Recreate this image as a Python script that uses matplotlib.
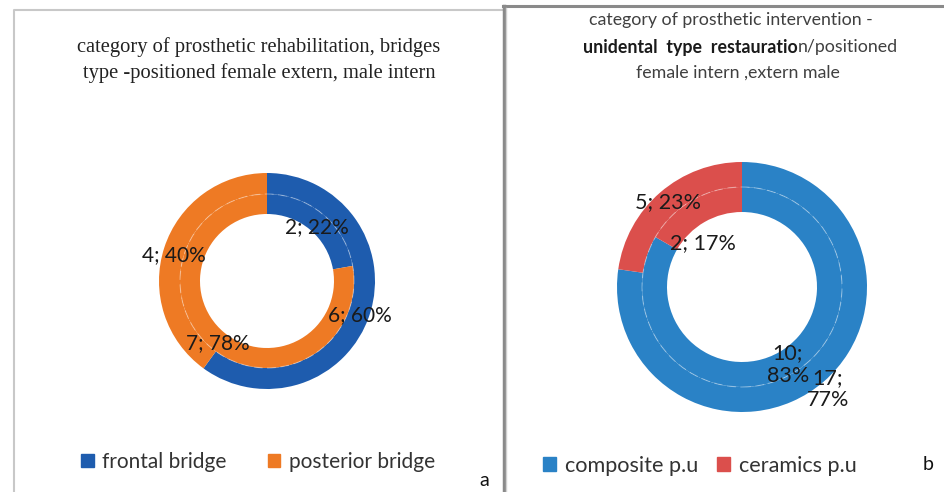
import math
import matplotlib
matplotlib.use('Agg')
import matplotlib.pyplot as plt
from matplotlib.patches import Circle, Patch

# data
bridge_labels = ['frontal bridge', 'posterior bridge']
bridge_female = [6, 4]   # outer ring (female, extern)
bridge_male = [2, 7]     # inner ring (male, intern)

unident_labels = ['composite p.u', 'ceramics p.u']
unident_male = [17, 5]   # outer ring (male, extern)
unident_female = [10, 2]  # inner ring (female, intern)

W, H = 945, 492
fig = plt.figure(figsize=(W / 100, H / 100), dpi=100)
ax = fig.add_axes([0, 0, 1, 1])

LABEL_FONT = ['Lato', 'DejaVu Sans']


def donut(ax, cx, cy, r_out, r_mid, r_in, outer, inner, colors,
          offsets, wrap, fsize):
    # cx, cy in image pixels (y down); convert for the y-up axes
    c = (cx, H - cy)
    rings = [(outer, r_out, r_out - r_mid), (inner, r_mid, r_mid - r_in)]
    k = 0
    for vals, r, w in rings:
        ax.pie(vals, radius=r, center=c, startangle=90, counterclock=False,
               colors=colors, wedgeprops=dict(width=w, edgecolor='none'))
        tot = sum(vals)
        cum = 0
        for v in vals:
            mid = (cum + v / 2) / tot * 360
            cum += v
            rr = r - w / 2
            x = c[0] + rr * math.sin(math.radians(mid)) + offsets[k][0]
            y = c[1] + rr * math.cos(math.radians(mid)) - offsets[k][1]
            sep = '\n' if wrap[k] else ' '
            ax.text(x, y, f'{v};{sep}{round(100 * v / tot)}%', ha='center',
                    va='center', fontsize=fsize, color='#1a1a1a',
                    family=LABEL_FONT, linespacing=1.15)
            k += 1
    # faint dashed border between the two rings
    ax.add_patch(Circle(c, r_mid, fill=False, ec='white', lw=0.8,
                        ls=(0, (8, 4)), alpha=0.35))


# left chart (a)
left_colors = ['#1E5CAE', '#EE7A24']
donut(ax, 267, 281, 108, 87, 67, bridge_female, bridge_male, left_colors,
      offsets=[(0, 4), (0, 4), (0, 5), (0, 3)],
      wrap=[False, False, False, False], fsize=15)

# right chart (b)
right_colors = ['#2A82C6', '#DB4F4C']
donut(ax, 742, 287, 125, 100, 75, unident_male, unident_female, right_colors,
      offsets=[(12, 17), (0, 0), (2, 2), (5, 32)],
      wrap=[True, False, True, False], fsize=15.5)

ax.set_xlim(0, W)
ax.set_ylim(0, H)
ax.set_aspect('auto')
ax.axis('off')

# panel frames
ax.plot([14, 14, 503], [0, H - 10, H - 10], color='#c8c8c8', lw=1.5,
        clip_on=False)
ax.plot([503, 945], [H - 6, H - 6], color='#8a8a8a', lw=2.2, clip_on=False)
ax.plot([503.5, 503.5], [0, H - 6], color='#8a8a8a', lw=2.5, clip_on=False)
ax.plot([506, 506], [0, H - 8], color='#d0d0d0', lw=1, clip_on=False)

# titles
ax.text(259, H - 47, 'category of prosthetic rehabilitation, bridges',
        ha='center', va='center', fontsize=14.8, family='Liberation Serif',
        color='#222222')
ax.text(259, H - 73, 'type -positioned female extern, male intern',
        ha='center', va='center', fontsize=14.8, family='Liberation Serif',
        color='#222222')

TITLE_FONT = ['Lato', 'DejaVu Sans']
ax.text(731, H - 20, 'category of prosthetic intervention -', ha='center',
        va='center', fontsize=12.8, family=TITLE_FONT, color='#404040')
ax.text(738, H - 73, 'female intern ,extern male', ha='center', va='center',
        fontsize=12.8, family=TITLE_FONT, color='#404040')

# mixed bold / normal second line, centred as a whole
t_bold = ax.text(0, H - 47, 'unidental  type  restauratio', ha='left',
                 va='center', fontsize=12.8, family=TITLE_FONT,
                 weight='bold', color='#1a1a1a')
t_norm = ax.text(0, H - 47, 'n/positioned', ha='left', va='center',
                 fontsize=12.8, family=TITLE_FONT, color='#404040')
renderer = fig.canvas.get_renderer()
wb = t_bold.get_window_extent(renderer).width
wn = t_norm.get_window_extent(renderer).width
x0 = 740 - (wb + wn) / 2
t_bold.set_x(x0)
t_norm.set_x(x0 + wb)

# legends
h_left = [Patch(color=c) for c in left_colors]
leg1 = ax.legend(h_left, bridge_labels, loc='center',
                 bbox_to_anchor=(258 / W, 1 - 462 / H), ncol=2, frameon=False,
                 handlelength=0.6, handleheight=0.6, handletextpad=0.4,
                 columnspacing=2.0, prop={'family': 'Lato', 'size': 15.0},
                 labelcolor='#333333')
ax.add_artist(leg1)
h_right = [Patch(color=c) for c in right_colors]
ax.legend(h_right, unident_labels, loc='center',
          bbox_to_anchor=(700 / W, 1 - 466 / H), ncol=2, frameon=False,
          handlelength=0.6, handleheight=0.6, handletextpad=0.4,
          columnspacing=0.9, prop={'family': 'Lato', 'size': 15.6},
          labelcolor='#333333')

ax.text(484, H - 480, 'a', ha='center', va='center', fontsize=14,
        family='Lato', color='#111111')
ax.text(928, H - 465, 'b', ha='center', va='center', fontsize=14,
        family='Lato', color='#111111')

plt.savefig('out.png', dpi=100)
